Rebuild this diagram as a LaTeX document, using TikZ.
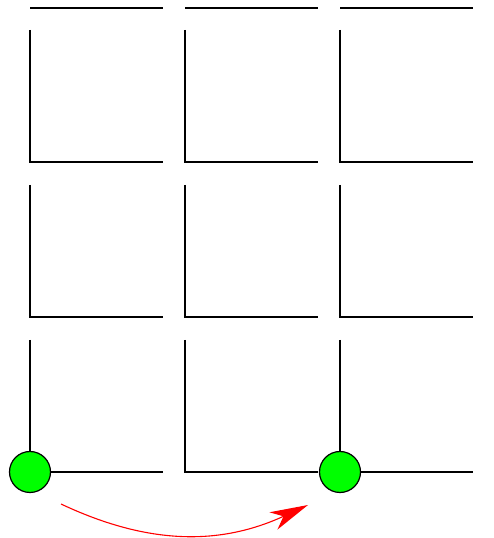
\documentclass[tikz,border=0pt]{standalone}
\usetikzlibrary{arrows.meta}
\tikzset{
  wall/.style={line width=1.4pt},
  agent/.style={draw, circle, line width=1.2pt, fill={rgb,255:red,0;green,255;blue,0}, minimum size=41pt, inner sep=0pt},
  move/.style={red, line width=1.1pt, -{Stealth[length=38pt, width=19pt, inset=11pt]}}
}
\begin{document}
\begin{tikzpicture}[x=1pt, y=1pt]
		\useasboundingbox (0,0) rectangle (493,538);
		% top edges
		\foreach \i in {0,1,2}
			\draw[wall] (30+155*\i,530) -- ++(133,0);
		% cells
		\foreach \i in {0,1,2}
			\foreach \j in {0,1,2}
				\draw[wall] (30+155*\i,508-155*\j) |- ++(133,-132);
		
		\node[agent] (A) at (30,66) {};
		\node[agent] (B) at (340,66) {};
		
		\coordinate (from) at ([shift={(31,-32)}]A.center);
		\coordinate (to) at ([shift={(-32,-33)}]B.center);
		\path [move] (from) edge[bend right=25] (to);
		\end{tikzpicture}
\end{document}
